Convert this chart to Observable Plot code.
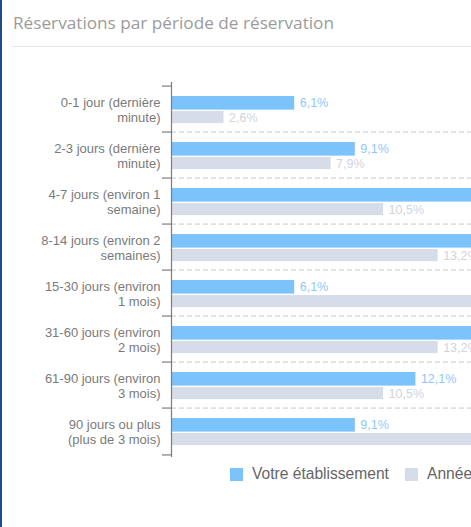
<!DOCTYPE html>
<html>
<head>
<meta charset="utf-8">
<script src="https://cdn.jsdelivr.net/npm/d3@7"></script>
<script src="https://cdn.jsdelivr.net/npm/@observablehq/plot@0.6"></script>
<style>
  html, body { margin: 0; padding: 0; background: #fff; overflow: hidden; }
  #card { position: relative; width: 471px; height: 527px; overflow: hidden; background: #fff; }
  #edge { position: absolute; left: 0; top: 0; width: 2px; height: 527px; background: #1f4d85; z-index: 3; }
  #chart { position: absolute; left: 0; top: 0; z-index: 1; }
  #title { position: absolute; left: 13px; top: 11px; font-family: "Open Sans", sans-serif; font-size: 17.2px; color: #9b9b9b; z-index: 2; white-space: nowrap; }
  #rule { position: absolute; left: 12px; right: 0; top: 46px; height: 1px; background: #e6e6e6; z-index: 2; }
  .leg { position: absolute; top: 465px; font-family: "Liberation Sans", Arial, sans-serif; font-size: 15.6px; color: #666; white-space: nowrap; z-index: 2; display: flex; align-items: center; }
  .sw { display: inline-block; width: 13px; height: 13px; margin-right: 9px; }
</style>
</head>
<body>
<div id="card">
  <div id="chart"></div>
  <div id="title">Réservations par période de réservation</div>
  <div id="rule"></div>
  <div class="leg" style="left:230px"><span class="sw" style="background:#7dc3fb"></span>Votre établissement</div>
  <div class="leg" style="left:405px"><span class="sw" style="background:#d6dce8"></span>Année précédente</div>
  <div id="edge"></div>
</div>
<script>
const categories = [
  "0-1 jour (dernière\nminute)",
  "2-3 jours (dernière\nminute)",
  "4-7 jours (environ 1\nsemaine)",
  "8-14 jours (environ 2\nsemaines)",
  "15-30 jours (environ\n1 mois)",
  "31-60 jours (environ\n2 mois)",
  "61-90 jours (environ\n3 mois)",
  "90 jours ou plus\n(plus de 3 mois)"
];
const votre = [6.1, 9.1, 18.2, 21.2, 6.1, 18.2, 12.1, 9.1];
const annee = [2.6, 7.9, 10.5, 13.2, 21.1, 13.2, 10.5, 21.1];
const seriesNames = ["Votre établissement", "Année précédente"];

const rows = categories.map((c, i) => ({cat: c, votre: votre[i], annee: annee[i]}));
const fmt = v => d3.format(".1f")(v).replace(".", ",") + "%";

const marginLeft = 171, marginTop = 82, plotH = 375, pxPer = 20.2, xMax = 25;
const width = marginLeft + xMax * pxPer;
const height = 527;
const step = plotH / categories.length;
const BLUE = "#7dc3fb", GRAY = "#d6dce8";
const FONT = "Liberation Sans, Arial, sans-serif";

const chart = Plot.plot({
  width, height,
  marginLeft, marginRight: 0, marginTop, marginBottom: height - marginTop - plotH,
  style: {maxWidth: "none", background: "transparent", overflow: "visible"},
  x: {domain: [0, xMax], axis: null},
  y: {domain: categories, padding: 0, axis: null},
  marks: [
    Plot.ruleY(categories.slice(1), {y: d => d, dy: -step / 2, x1: 0, x2: xMax, stroke: "#c9c9c9", strokeDasharray: "5,3"}),
    Plot.barX(rows, {x: "votre", y: "cat", fill: BLUE, insetTop: 10, insetBottom: step - 24.5}),
    Plot.barX(rows, {x: "annee", y: "cat", fill: GRAY, insetTop: 25, insetBottom: step - 38}),
    Plot.text(rows, {x: "votre", y: "cat", text: d => fmt(d.votre), dx: 5, dy: -7, textAnchor: "start", fill: "#8ec8fb", fontSize: 12.5, fontFamily: FONT}),
    Plot.text(rows, {x: "annee", y: "cat", text: d => fmt(d.annee), dx: 5, dy: 8, textAnchor: "start", fill: "#d0d4dd", fontSize: 12.5, fontFamily: FONT}),
    Plot.ruleX([0], {stroke: "#7d7d7d", strokeWidth: 1.2}),
    Plot.ruleY(categories, {y: d => d, dy: -step / 2, x1: -9 / pxPer, x2: 0, stroke: "#7d7d7d", strokeWidth: 1.2}),
    Plot.ruleY(categories.slice(-1), {y: d => d, dy: step / 2, x1: -9 / pxPer, x2: 0, stroke: "#7d7d7d", strokeWidth: 1.2}),
    Plot.axisY({tickSize: 0, tickPadding: 11, fontSize: 13, lineHeight: 1.16, fill: "#7a7a7a", fontFamily: FONT, label: null})
  ]
});
document.getElementById("chart").appendChild(chart);
</script>
</body>
</html>
